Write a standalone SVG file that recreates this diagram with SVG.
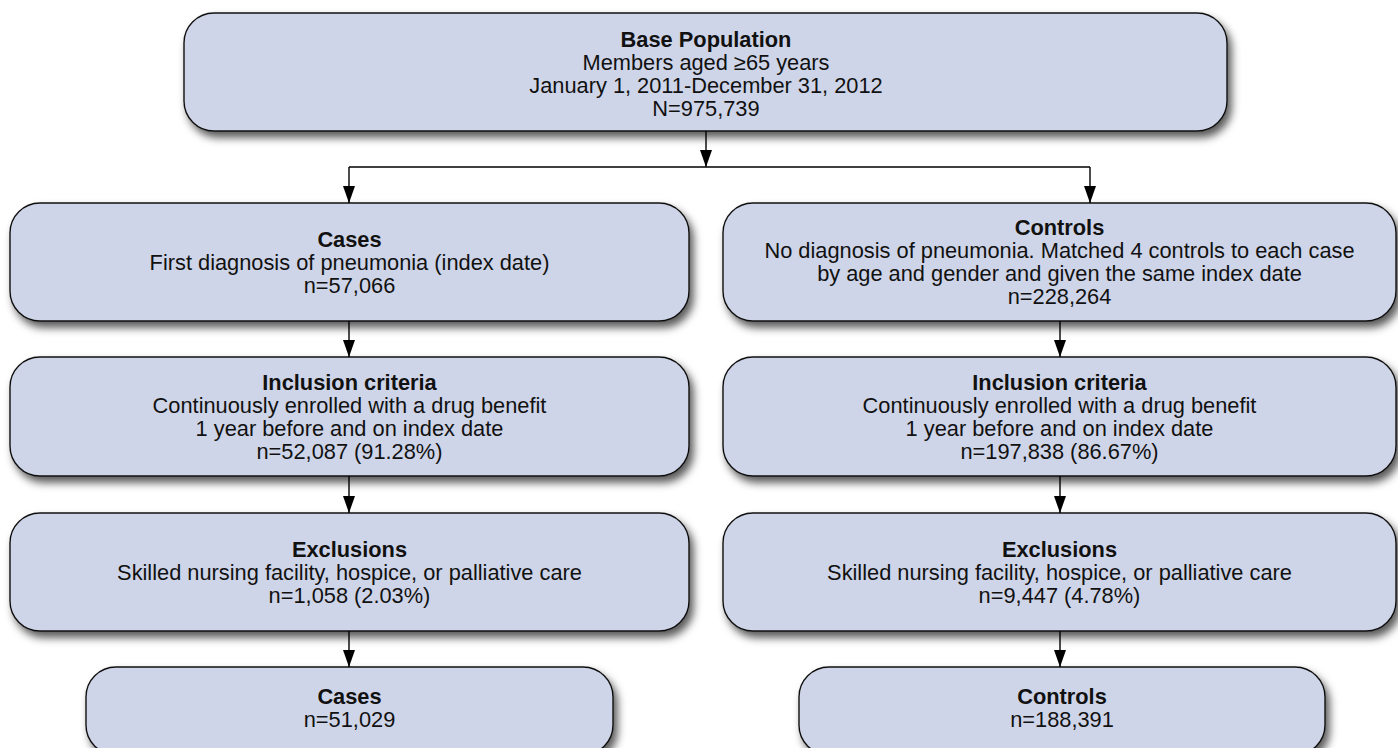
<svg xmlns="http://www.w3.org/2000/svg" width="1398" height="748" viewBox="0 0 1398 748">
<defs>
<filter id="sh" x="-10%" y="-20%" width="120%" height="160%">
<feDropShadow dx="4" dy="6" stdDeviation="4.5" flood-color="#000" flood-opacity="0.65"/>
</filter>
<marker id="ah" viewBox="0 0 17 12" refX="17" refY="6" markerWidth="17" markerHeight="12" markerUnits="userSpaceOnUse" orient="auto">
<path d="M0,0 L17,6 L0,12 Z" fill="#000"/>
</marker>
</defs>
<style>
.box{fill:#CFD5E8;stroke:#111;stroke-width:1.4;filter:url(#sh)}
text{font-family:"Liberation Sans",Arial,Helvetica,sans-serif;font-size:21.8px;fill:#111;text-anchor:middle}
.b{font-weight:bold}
.c{fill:none;stroke:#000;stroke-width:1.4}
.a{marker-end:url(#ah)}
</style>
<rect width="1398" height="748" fill="#fff"/>
<g id="base">
<rect class="box" x="184" y="13" width="1043" height="118" rx="30"/>
<text x="706" y="47" class="b">Base Population</text>
<text x="706" y="70">Members aged ≥65 years</text>
<text x="706" y="93">January 1, 2011-December 31, 2012</text>
<text x="706" y="116">N=975,739</text>
</g>
<g id="cases1">
<rect class="box" x="10" y="203" width="679" height="118" rx="30"/>
<text x="349.5" y="247" class="b">Cases</text>
<text x="349.5" y="270">First diagnosis of pneumonia (index date)</text>
<text x="349.5" y="293">n=57,066</text>
</g>
<g id="controls1">
<rect class="box" x="723" y="203" width="673" height="118" rx="30"/>
<text x="1059.5" y="235" class="b">Controls</text>
<text x="1059.5" y="258">No diagnosis of pneumonia. Matched 4 controls to each case</text>
<text x="1059.5" y="281">by age and gender and given the same index date</text>
<text x="1059.5" y="304">n=228,264</text>
</g>
<g id="cases2">
<rect class="box" x="10" y="357" width="679" height="119" rx="30"/>
<text x="349.5" y="390" class="b">Inclusion criteria</text>
<text x="349.5" y="413">Continuously enrolled with a drug benefit</text>
<text x="349.5" y="436">1 year before and on index date</text>
<text x="349.5" y="459">n=52,087 (91.28%)</text>
</g>
<g id="controls2">
<rect class="box" x="723" y="357" width="673" height="119" rx="30"/>
<text x="1059.5" y="390" class="b">Inclusion criteria</text>
<text x="1059.5" y="413">Continuously enrolled with a drug benefit</text>
<text x="1059.5" y="436">1 year before and on index date</text>
<text x="1059.5" y="459">n=197,838 (86.67%)</text>
</g>
<g id="cases3">
<rect class="box" x="10" y="513" width="679" height="118" rx="30"/>
<text x="349.5" y="557" class="b">Exclusions</text>
<text x="349.5" y="580">Skilled nursing facility, hospice, or palliative care</text>
<text x="349.5" y="603">n=1,058 (2.03%)</text>
</g>
<g id="controls3">
<rect class="box" x="723" y="513" width="673" height="118" rx="30"/>
<text x="1059.5" y="557" class="b">Exclusions</text>
<text x="1059.5" y="580">Skilled nursing facility, hospice, or palliative care</text>
<text x="1059.5" y="603">n=9,447 (4.78%)</text>
</g>
<g id="cases4">
<rect class="box" x="86" y="667" width="527" height="88" rx="30"/>
<text x="349.5" y="704" class="b">Cases</text>
<text x="349.5" y="727">n=51,029</text>
</g>
<g id="controls4">
<rect class="box" x="799" y="667" width="526" height="88" rx="30"/>
<text x="1062" y="704" class="b">Controls</text>
<text x="1062" y="727">n=188,391</text>
</g>
<g id="connectors">
<path class="c a" d="M706,131 V167"/>
<path class="c" d="M349,167 H1090"/>
<path class="c a" d="M349,167 V203"/>
<path class="c a" d="M1090,167 V203"/>
<path class="c a" d="M349,321 V357"/>
<path class="c a" d="M349,476 V513"/>
<path class="c a" d="M349,631 V667"/>
<path class="c a" d="M1060,321 V357"/>
<path class="c a" d="M1060,476 V513"/>
<path class="c a" d="M1060,631 V667"/>
</g>
</svg>
